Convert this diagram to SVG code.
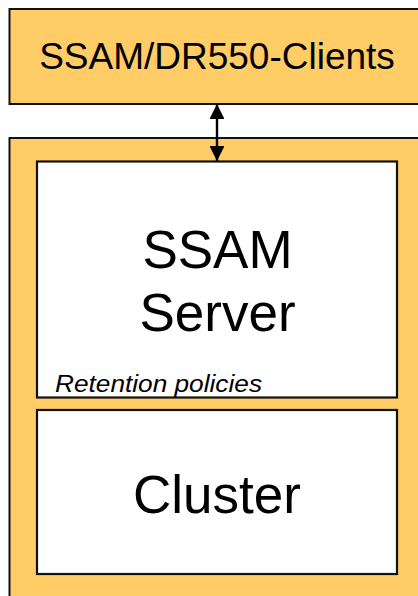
<svg xmlns="http://www.w3.org/2000/svg" width="418" height="596" viewBox="0 0 418 596">
<style>
.box{fill:#FFCC66;stroke:#111;stroke-width:2}
.inner{fill:#FFFFFF;stroke:#111;stroke-width:2.2}
.t{font-family:"Liberation Sans",Arial,sans-serif;fill:#000;text-anchor:middle}
.conn{stroke:#000;stroke-width:2.4;fill:none}
</style>
<defs>
<marker id="ah" viewBox="0 0 10 10" refX="10" refY="5" markerWidth="6.2" markerHeight="6.2" orient="auto-start-reverse" markerUnits="strokeWidth">
<path d="M0,0 L10,5 L0,10 Z" fill="#000"/>
</marker>
</defs>
<rect width="418" height="596" fill="#fff"/>
<g id="clients">
<rect class="box" x="9.5" y="9" width="430" height="95"/>
<text class="t" x="217" y="69" font-size="37">SSAM/DR550-Clients</text>
</g>
<g id="container">
<rect class="box" x="9.5" y="138" width="430" height="480"/>
</g>
<g id="server">
<rect class="inner" x="37" y="161.5" width="360" height="236"/>
<text class="t" x="217.5" y="268" font-size="53">SSAM</text>
<text class="t" x="217.5" y="331" font-size="53">Server</text>
<text x="55" y="392" font-size="24" font-style="italic" font-family="'Liberation Sans',Arial,sans-serif" textLength="207" lengthAdjust="spacingAndGlyphs">Retention policies</text>
</g>
<g id="cluster">
<rect class="inner" x="37" y="410" width="360" height="164"/>
<text class="t" x="217" y="513" font-size="53">Cluster</text>
</g>
<g id="connectors">
<line class="conn" x1="217" y1="104" x2="217" y2="161" marker-start="url(#ah)" marker-end="url(#ah)"/>
</g>
</svg>
